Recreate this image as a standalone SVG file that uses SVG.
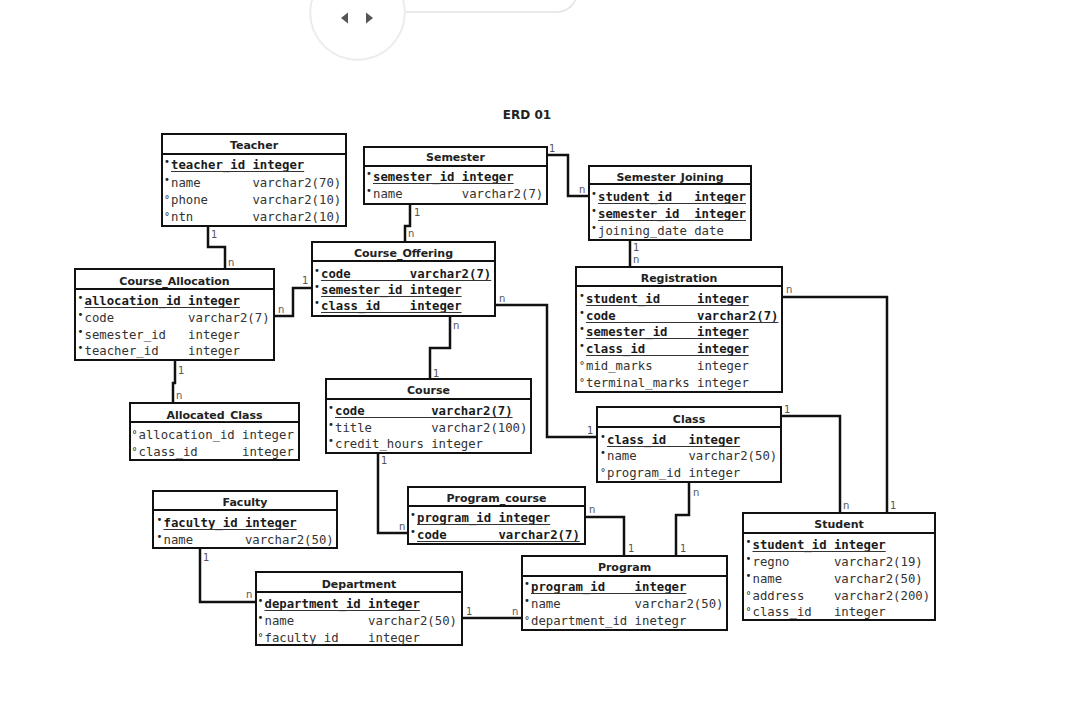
<svg xmlns="http://www.w3.org/2000/svg" width="1080" height="720" viewBox="0 0 1080 720">
<style>
.bx{fill:#fff;stroke:#111;stroke-width:2}
.sp{stroke:#111;stroke-width:2}
.tt{font-family:"DejaVu Sans",sans-serif;font-weight:bold;font-size:11px;fill:#222;text-anchor:middle}
.a{font-family:"DejaVu Sans Mono",monospace;font-size:12.3px;fill:#333}
.k{font-weight:bold;fill:#1a1a1a}
.ul{stroke:#333;stroke-width:1.2}
.bu{font-family:"DejaVu Sans",sans-serif;font-size:10px;fill:#222;text-anchor:middle}
.c{fill:none;stroke:#111;stroke-width:2.5}
.l{font-family:"DejaVu Sans",sans-serif;font-size:10px;fill:#555}
</style>
<rect width="1080" height="720" fill="#fff"/>
<g id="browser-ui">
<rect x="360" y="-30" width="217" height="42" rx="20" fill="#fff" stroke="#e2e2e2" stroke-width="1.5"/>
<circle cx="357.5" cy="12.5" r="48.5" fill="#f2f2f2"/>
<circle cx="357.5" cy="12.5" r="47" fill="#fff" stroke="#e6e6e6" stroke-width="1"/>
<polygon points="341,18 348,12.5 348,23.5" fill="#555"/>
<polygon points="366,12.5 373,18 366,23.5" fill="#555"/>
</g>
<text x="527" y="119" font-family="DejaVu Sans,sans-serif" font-weight="bold" font-size="12px" fill="#222" text-anchor="middle">ERD 01</text>

<g id="connectors">
<polyline class="c" points="547,155 568,155 568,196 589,196"/>
<text class="l" x="549" y="152">1</text><text class="l" x="579" y="193">n</text>
<polyline class="c" points="410,203 410,226 405,226 405,242"/>
<text class="l" x="414" y="216">1</text><text class="l" x="408" y="237">n</text>
<polyline class="c" points="208,226 208,247 225,247 225,269"/>
<text class="l" x="211" y="238">1</text><text class="l" x="228" y="266">n</text>
<polyline class="c" points="274,316 293,316 293,288 312,288"/>
<text class="l" x="302" y="284">1</text><text class="l" x="278" y="313">n</text>
<polyline class="c" points="175,360 175,383 173,383 173,403"/>
<text class="l" x="178" y="374">1</text><text class="l" x="176" y="399">n</text>
<polyline class="c" points="495,305 547,305 547,437 597,437"/>
<text class="l" x="499" y="302">n</text><text class="l" x="587" y="434">1</text>
<polyline class="c" points="450,316 450,348 430,348 430,379"/>
<text class="l" x="453" y="329">n</text><text class="l" x="433" y="377">1</text>
<polyline class="c" points="378,453 378,533 408,533"/>
<text class="l" x="381" y="464">1</text><text class="l" x="399" y="530">n</text>
<polyline class="c" points="585,517 624,517 624,556"/>
<text class="l" x="589" y="513">n</text><text class="l" x="628" y="552">1</text>
<polyline class="c" points="689,482 689,515 676,515 676,556"/>
<text class="l" x="693" y="496">n</text><text class="l" x="680" y="552">1</text>
<polyline class="c" points="781,416 840,416 840,513"/>
<text class="l" x="784" y="413">1</text><text class="l" x="843" y="509">n</text>
<polyline class="c" points="782,297 887,297 887,513"/>
<text class="l" x="786" y="293">n</text><text class="l" x="890" y="509">1</text>
<polyline class="c" points="630,240 630,267"/>
<text class="l" x="633" y="251">1</text><text class="l" x="633" y="263">n</text>
<polyline class="c" points="200,548 200,602 256,602"/>
<text class="l" x="203" y="561">1</text><text class="l" x="246" y="598">n</text>
<polyline class="c" points="462,618 522,618"/>
<text class="l" x="466" y="615">1</text><text class="l" x="512" y="615">n</text>
</g>

<g id="teacher">
<rect class="bx" x="162" y="134" width="184" height="92"/><line class="sp" x1="162" y1="154" x2="346" y2="154"/>
<text class="tt" x="254" y="149">Teacher</text>
<text class="bu" x="167" y="164.6">•</text><text class="a k" y="169"><tspan x="171">teacher_id</tspan><tspan x="252.4">integer</tspan></text><line class="ul" x1="171" y1="171.5" x2="304.2" y2="171.5"/>
<text class="bu" x="167" y="182.6">•</text><text class="a" y="187"><tspan x="171">name</tspan><tspan x="252.4">varchar2(70)</tspan></text>
<text class="bu" x="167" y="203">°</text><text class="a" y="204"><tspan x="171">phone</tspan><tspan x="252.4">varchar2(10)</tspan></text>
<text class="bu" x="167" y="220">°</text><text class="a" y="221"><tspan x="171">ntn</tspan><tspan x="252.4">varchar2(10)</tspan></text>
</g>

<g id="semester">
<rect class="bx" x="364" y="147" width="183" height="57"/><line class="sp" x1="364" y1="166" x2="547" y2="166"/>
<text class="tt" x="455.5" y="161">Semester</text>
<text class="bu" x="369" y="176.6">•</text><text class="a k" y="181"><tspan x="373">semester_id</tspan><tspan x="461.8">integer</tspan></text><line class="ul" x1="373" y1="183.5" x2="513.6" y2="183.5"/>
<text class="bu" x="369" y="193.6">•</text><text class="a" y="198"><tspan x="373">name</tspan><tspan x="461.8">varchar2(7)</tspan></text>
</g>

<g id="semester_joining">
<rect class="bx" x="589" y="166" width="162" height="74"/><line class="sp" x1="589" y1="184" x2="751" y2="184"/>
<text class="tt" x="670" y="181">Semester_Joining</text>
<text class="bu" x="594" y="196.6">•</text><text class="a k" y="201"><tspan x="598">student_id</tspan><tspan x="694.2">integer</tspan></text><line class="ul" x1="598" y1="203.5" x2="746" y2="203.5"/>
<text class="bu" x="594" y="213.6">•</text><text class="a k" y="218"><tspan x="598">semester_id</tspan><tspan x="694.2">integer</tspan></text><line class="ul" x1="598" y1="220.5" x2="746" y2="220.5"/>
<text class="bu" x="594" y="230.6">•</text><text class="a" y="235"><tspan x="598">joining_date</tspan><tspan x="694.2">date</tspan></text>
</g>

<g id="course_allocation">
<rect class="bx" x="75" y="269" width="199" height="91"/><line class="sp" x1="75" y1="289" x2="274" y2="289"/>
<text class="tt" x="174.5" y="285">Course_Allocation</text>
<text class="bu" x="80.5" y="300.6">•</text><text class="a k" y="305"><tspan x="84.5">allocation_id</tspan><tspan x="188.1">integer</tspan></text><line class="ul" x1="84.5" y1="307.5" x2="239.9" y2="307.5"/>
<text class="bu" x="80.5" y="317.6">•</text><text class="a" y="322"><tspan x="84.5">code</tspan><tspan x="188.1">varchar2(7)</tspan></text>
<text class="bu" x="80.5" y="334.6">•</text><text class="a" y="339"><tspan x="84.5">semester_id</tspan><tspan x="188.1">integer</tspan></text>
<text class="bu" x="80.5" y="350.6">•</text><text class="a" y="355"><tspan x="84.5">teacher_id</tspan><tspan x="188.1">integer</tspan></text>
</g>

<g id="course_offering">
<rect class="bx" x="312" y="242" width="183" height="74"/><line class="sp" x1="312" y1="261" x2="495" y2="261"/>
<text class="tt" x="403.5" y="256.5">Course_Offering</text>
<text class="bu" x="317" y="273.6">•</text><text class="a k" y="278"><tspan x="321">code</tspan><tspan x="409.8">varchar2(7)</tspan></text><line class="ul" x1="321" y1="280.5" x2="491.2" y2="280.5"/>
<text class="bu" x="317" y="289.6">•</text><text class="a k" y="294"><tspan x="321">semester_id</tspan><tspan x="409.8">integer</tspan></text><line class="ul" x1="321" y1="296.5" x2="461.6" y2="296.5"/>
<text class="bu" x="317" y="305.6">•</text><text class="a k" y="310"><tspan x="321">class_id</tspan><tspan x="409.8">integer</tspan></text><line class="ul" x1="321" y1="312.5" x2="461.6" y2="312.5"/>
</g>

<g id="registration">
<rect class="bx" x="576" y="267" width="206" height="125"/><line class="sp" x1="576" y1="286" x2="782" y2="286"/>
<text class="tt" x="679" y="281.5">Registration</text>
<text class="bu" x="582" y="298.6">•</text><text class="a k" y="303"><tspan x="586">student_id</tspan><tspan x="697">integer</tspan></text><line class="ul" x1="586" y1="305.5" x2="748.8" y2="305.5"/>
<text class="bu" x="582" y="315.6">•</text><text class="a k" y="320"><tspan x="586">code</tspan><tspan x="697">varchar2(7)</tspan></text><line class="ul" x1="586" y1="322.5" x2="778.4" y2="322.5"/>
<text class="bu" x="582" y="331.6">•</text><text class="a k" y="336"><tspan x="586">semester_id</tspan><tspan x="697">integer</tspan></text><line class="ul" x1="586" y1="338.5" x2="748.8" y2="338.5"/>
<text class="bu" x="582" y="348.6">•</text><text class="a k" y="353"><tspan x="586">class_id</tspan><tspan x="697">integer</tspan></text><line class="ul" x1="586" y1="355.5" x2="748.8" y2="355.5"/>
<text class="bu" x="582" y="369">°</text><text class="a" y="370"><tspan x="586">mid_marks</tspan><tspan x="697">integer</tspan></text>
<text class="bu" x="582" y="386">°</text><text class="a" y="387"><tspan x="586">terminal_marks</tspan><tspan x="697">integer</tspan></text>
</g>

<g id="allocated_class">
<rect class="bx" x="130" y="403" width="169" height="57"/><line class="sp" x1="130" y1="422" x2="299" y2="422"/>
<text class="tt" x="214.5" y="418.5">Allocated_Class</text>
<text class="bu" x="134.5" y="438">°</text><text class="a" y="439"><tspan x="138.5">allocation_id</tspan><tspan x="242">integer</tspan></text>
<text class="bu" x="134.5" y="455">°</text><text class="a" y="456"><tspan x="138.5">class_id</tspan><tspan x="242">integer</tspan></text>
</g>

<g id="course">
<rect class="bx" x="326" y="379" width="205" height="74"/><line class="sp" x1="326" y1="399" x2="531" y2="399"/>
<text class="tt" x="428.5" y="394">Course</text>
<text class="bu" x="331" y="410.6">•</text><text class="a k" y="415"><tspan x="335">code</tspan><tspan x="431.2">varchar2(7)</tspan></text><line class="ul" x1="335" y1="417.5" x2="512.6" y2="417.5"/>
<text class="bu" x="331" y="427.6">•</text><text class="a" y="432"><tspan x="335">title</tspan><tspan x="431.2">varchar2(100)</tspan></text>
<text class="bu" x="331" y="443.6">•</text><text class="a" y="448"><tspan x="335">credit_hours</tspan><tspan x="431.2">integer</tspan></text>
</g>

<g id="class">
<rect class="bx" x="597" y="407" width="184" height="75"/><line class="sp" x1="597" y1="427" x2="781" y2="427"/>
<text class="tt" x="689" y="422.5">Class</text>
<text class="bu" x="603" y="439.6">•</text><text class="a k" y="444"><tspan x="607">class_id</tspan><tspan x="688.4">integer</tspan></text><line class="ul" x1="607" y1="446.5" x2="740.2" y2="446.5"/>
<text class="bu" x="603" y="455.6">•</text><text class="a" y="460"><tspan x="607">name</tspan><tspan x="688.4">varchar2(50)</tspan></text>
<text class="bu" x="603" y="476">°</text><text class="a" y="477"><tspan x="607">program_id</tspan><tspan x="688.4">integer</tspan></text>
</g>

<g id="faculty">
<rect class="bx" x="153" y="491" width="184" height="57"/><line class="sp" x1="153" y1="510" x2="337" y2="510"/>
<text class="tt" x="245" y="506">Faculty</text>
<text class="bu" x="159.5" y="522.6">•</text><text class="a k" y="527"><tspan x="163.5">faculty_id</tspan><tspan x="244.9">integer</tspan></text><line class="ul" x1="163.5" y1="529.5" x2="296.7" y2="529.5"/>
<text class="bu" x="159.5" y="539.6">•</text><text class="a" y="544"><tspan x="163.5">name</tspan><tspan x="244.9">varchar2(50)</tspan></text>
</g>

<g id="department">
<rect class="bx" x="256" y="572" width="206" height="73"/><line class="sp" x1="256" y1="592" x2="462" y2="592"/>
<text class="tt" x="359" y="587.5">Department</text>
<text class="bu" x="260.5" y="603.6">•</text><text class="a k" y="608"><tspan x="264.5">department_id</tspan><tspan x="368.1">integer</tspan></text><line class="ul" x1="264.5" y1="610.5" x2="419.9" y2="610.5"/>
<text class="bu" x="260.5" y="620.6">•</text><text class="a" y="625"><tspan x="264.5">name</tspan><tspan x="368.1">varchar2(50)</tspan></text>
<text class="bu" x="260.5" y="641">°</text><text class="a" y="642"><tspan x="264.5">faculty_id</tspan><tspan x="368.1">integer</tspan></text>
</g>

<g id="program_course">
<rect class="bx" x="408" y="487" width="177" height="57"/><line class="sp" x1="408" y1="506" x2="585" y2="506"/>
<text class="tt" x="496.5" y="501.5">Program_course</text>
<text class="bu" x="413" y="517.6">•</text><text class="a k" y="522"><tspan x="417">program_id</tspan><tspan x="498.4">integer</tspan></text><line class="ul" x1="417" y1="524.5" x2="550.2" y2="524.5"/>
<text class="bu" x="413" y="534.6">•</text><text class="a k" y="539"><tspan x="417">code</tspan><tspan x="498.4">varchar2(7)</tspan></text><line class="ul" x1="417" y1="541.5" x2="579.8" y2="541.5"/>
</g>

<g id="program">
<rect class="bx" x="522" y="556" width="205" height="74"/><line class="sp" x1="522" y1="576" x2="727" y2="576"/>
<text class="tt" x="624.5" y="571">Program</text>
<text class="bu" x="527" y="586.6">•</text><text class="a k" y="591"><tspan x="531">program_id</tspan><tspan x="634.6">integer</tspan></text><line class="ul" x1="531" y1="593.5" x2="686.4" y2="593.5"/>
<text class="bu" x="527" y="603.6">•</text><text class="a" y="608"><tspan x="531">name</tspan><tspan x="634.6">varchar2(50)</tspan></text>
<text class="bu" x="527" y="624">°</text><text class="a" y="625"><tspan x="531">department_id</tspan><tspan x="634.6">inetegr</tspan></text>
</g>

<g id="student">
<rect class="bx" x="743" y="513" width="192" height="107"/><line class="sp" x1="743" y1="533" x2="935" y2="533"/>
<text class="tt" x="839" y="527.5">Student</text>
<text class="bu" x="748.5" y="544.6">•</text><text class="a k" y="549"><tspan x="752.5">student_id</tspan><tspan x="833.9">integer</tspan></text><line class="ul" x1="752.5" y1="551.5" x2="885.7" y2="551.5"/>
<text class="bu" x="748.5" y="561.6">•</text><text class="a" y="566"><tspan x="752.5">regno</tspan><tspan x="833.9">varchar2(19)</tspan></text>
<text class="bu" x="748.5" y="578.6">•</text><text class="a" y="583"><tspan x="752.5">name</tspan><tspan x="833.9">varchar2(50)</tspan></text>
<text class="bu" x="748.5" y="599">°</text><text class="a" y="600"><tspan x="752.5">address</tspan><tspan x="833.9">varchar2(200)</tspan></text>
<text class="bu" x="748.5" y="615">°</text><text class="a" y="616"><tspan x="752.5">class_id</tspan><tspan x="833.9">integer</tspan></text>
</g>
</svg>
